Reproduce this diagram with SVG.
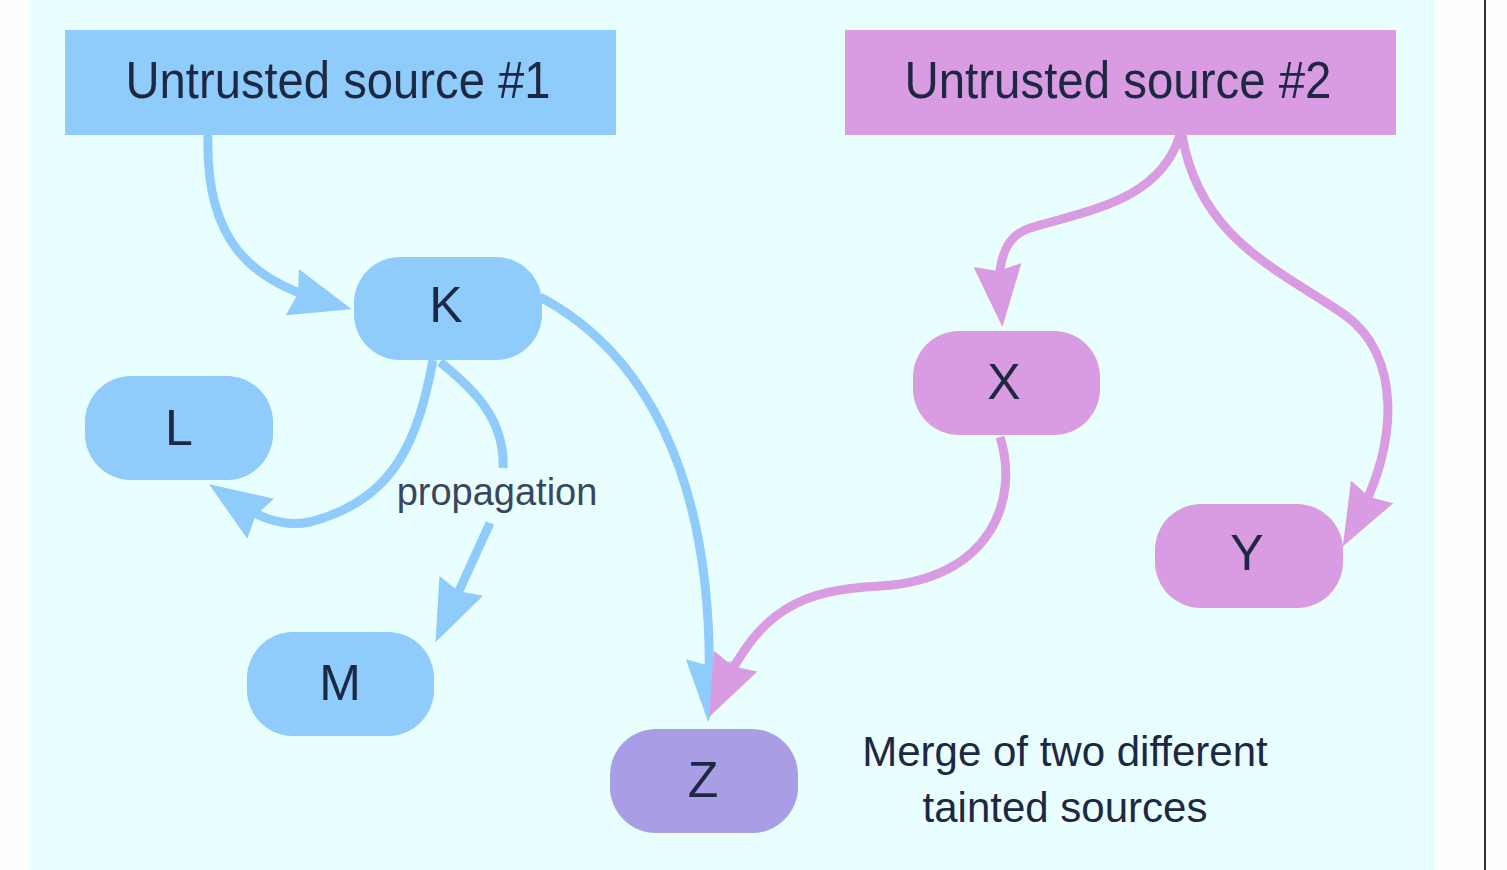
<svg xmlns="http://www.w3.org/2000/svg" width="1507" height="870" viewBox="0 0 1507 870">
  <style>
    .blue { fill: #8fcbfb; }
    .pink { fill: #d99be2; }
    .purple { fill: #a99de6; }
    .lbl { font-family: "Liberation Sans", Arial, sans-serif; fill: #1d2842; text-anchor: middle; }
    .node { font-size: 50px; }
    .title { font-size: 52px; }
    .edgeB { fill: none; stroke: #8fcbfb; stroke-width: 9; marker-end: url(#arrowB); }
    .edgeP { fill: none; stroke: #d99be2; stroke-width: 9; marker-end: url(#arrowP); }
  </style>
  <defs>
    <marker id="arrowB" viewBox="0 0 64 52" markerWidth="64" markerHeight="52" markerUnits="userSpaceOnUse" refX="32" refY="26" orient="auto">
      <path d="M0,2 L62,26 L0,50 L6,26 Z" fill="#8fcbfb"/>
    </marker>
    <marker id="arrowP" viewBox="0 0 64 52" markerWidth="64" markerHeight="52" markerUnits="userSpaceOnUse" refX="32" refY="26" orient="auto">
      <path d="M0,2 L62,26 L0,50 L6,26 Z" fill="#d99be2"/>
    </marker>
  </defs>

  <rect x="0" y="0" width="1507" height="870" fill="#fefefe"/>
  <rect x="30" y="0" width="1405" height="870" fill="#e9fefe"/>
  <rect x="1484" y="0" width="2" height="870" fill="#333333"/>

  <g id="source1">
    <rect x="65" y="30" width="551" height="105" class="blue"/>
    <text x="338" y="98" class="lbl title" textLength="425" lengthAdjust="spacingAndGlyphs">Untrusted source #1</text>
  </g>
  <g id="source2">
    <rect x="845" y="30" width="551" height="105" class="pink"/>
    <text x="1118" y="98" class="lbl title" textLength="427" lengthAdjust="spacingAndGlyphs">Untrusted source #2</text>
  </g>

  <g id="connectors">
    <path class="edgeB" d="M208,135 C205,240 250,280 323,301"/>
    <path class="edgeB" d="M433,360 C418,440 395,500 310,522 C280,528 255,515 234,501"/>
    <path class="edgeB" d="M440,362 C475,390 505,420 503,468 M490,523 L448,615"/>
    <path class="edgeB" d="M540,297 C640,350 715,470 709,692"/>
    <path class="edgeP" d="M1180,135 C1160,200 1090,210 1030,228 C1005,236 997,260 1000,297"/>
    <path class="edgeP" d="M1182,135 C1200,240 1280,270 1345,315 C1400,355 1400,440 1357,520"/>
    <path class="edgeP" d="M1000,437 C1020,500 990,580 880,586 C800,590 760,610 722,690"/>
    <text x="497" y="505" class="lbl" style="font-size:38px; fill:#3a4660">propagation</text>
  </g>

  <g id="K">
    <rect x="354" y="257" width="188" height="103" rx="46" class="blue"/>
    <text x="446" y="322" class="lbl node">K</text>
  </g>
  <g id="L">
    <rect x="85" y="376" width="188" height="104" rx="46" class="blue"/>
    <text x="179" y="445" class="lbl node">L</text>
  </g>
  <g id="M">
    <rect x="247" y="632" width="187" height="104" rx="46" class="blue"/>
    <text x="340" y="700" class="lbl node">M</text>
  </g>
  <g id="Z">
    <rect x="610" y="729" width="188" height="104" rx="46" class="purple"/>
    <text x="703" y="797" class="lbl node">Z</text>
  </g>
  <g id="X">
    <rect x="913" y="331" width="187" height="104" rx="46" class="pink"/>
    <text x="1004" y="399" class="lbl node">X</text>
  </g>
  <g id="Y">
    <rect x="1155" y="504" width="188" height="104" rx="46" class="pink"/>
    <text x="1247" y="570" class="lbl node">Y</text>
  </g>

  <g id="note">
    <text x="1065" y="766" class="lbl" style="font-size:42px">Merge of two different</text>
    <text x="1065" y="822" class="lbl" style="font-size:42px">tainted sources</text>
  </g>
</svg>
